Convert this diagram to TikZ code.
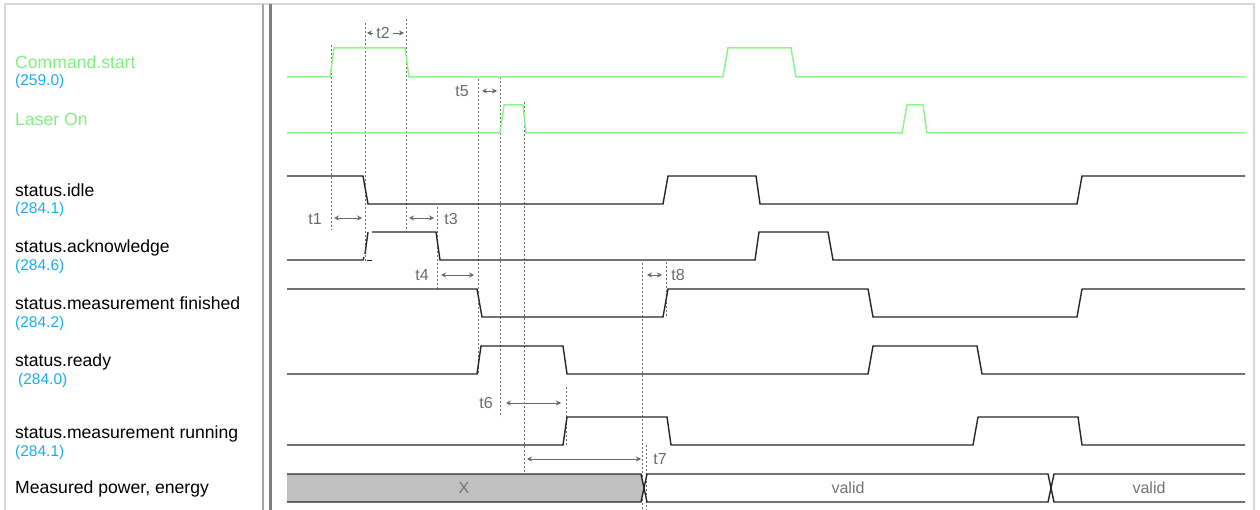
\documentclass[tikz,border=0pt]{standalone}
\usepackage{fontspec}
\setmainfont{Liberation Sans}
\usetikzlibrary{arrows.meta}
\definecolor{sigg}{HTML}{8CF58C}
\definecolor{txtg}{HTML}{80F080}
\definecolor{numb}{HTML}{1AAEF0}
\definecolor{dimg}{HTML}{6A6A6A}
\definecolor{busg}{HTML}{C0C0C0}
\definecolor{frameg}{HTML}{D8D8D8}
\tikzset{
  sig/.style={draw=black!85, line width=1.4pt, line join=miter},
  gsig/.style={draw=sigg, line width=1.5pt, line join=miter},
  guide/.style={draw=dimg, line width=0.7pt, dash pattern=on 2pt off 2pt},
  dimarr/.style={draw=dimg, line width=0.8pt, {Stealth[length=5pt,width=5pt]}-{Stealth[length=5pt,width=5pt]}},
  lbl/.style={anchor=base west, inner sep=0pt, font=\fontsize{17.6}{19}\selectfont},
  glbl/.style={lbl, text=txtg},
  nlbl/.style={anchor=base west, inner sep=0pt, text=numb, font=\fontsize{15.5}{17}\selectfont},
  tlbl/.style={inner sep=0pt, text=dimg, font=\fontsize{16}{17}\selectfont},
  buslbl/.style={inner sep=0pt, text=black!55, font=\fontsize{16}{17}\selectfont}
}
\begin{document}
\begin{tikzpicture}[x=1pt,y=-1pt]
\useasboundingbox (0,0) rectangle (1260,510);
% frame
\draw[frameg, line width=2.5pt] (5,510) -- (5,4) -- (1254,4) -- (1254,510);
\draw[black!35, line width=2pt] (263,4) -- (263,510);
\draw[black!50, line width=3pt] (270,4) -- (270,510);

% labels
\node[glbl] (cmd) at (15,69) {Command.start};
\node[nlbl] (cmdn) at (15,86) {(259.0)};
\node[glbl] (laser) at (15,126) {Laser On};
\node[lbl] (idle) at (15,197) {status.idle};
\node[nlbl] (idlen) at (15,214) {(284.1)};
\node[lbl] (ack) at (15,253) {status.acknowledge};
\node[nlbl] (ackn) at (15,271) {(284.6)};
\node[lbl] (fin) at (15,310) {status.measurement finished};
\node[nlbl] (finn) at (15,327) {(284.2)};
\node[lbl] (rdy) at (15,366) {status.ready};
\node[nlbl] (rdyn) at (18,384) {(284.0)};
\node[lbl] (run) at (15,438) {status.measurement running};
\node[nlbl] (runn) at (15,456) {(284.1)};
\node[lbl] (pow) at (15,493) {Measured power, energy};

% guide lines
\draw[guide] (331,45) -- (331,230);
\draw[guide] (365,23) -- (365,262);
\draw[guide] (406,19) -- (406,230);
\draw[guide] (437,207) -- (437,289);
\draw[guide] (478,79) -- (478,375);
\draw[guide] (500,77) -- (500,417);
\draw[guide] (524,102) -- (524,474);
\draw[guide] (566,387) -- (566,445);
\draw[guide] (642,263) -- (642,510);
\draw[guide] (646,445) -- (646,510);
\draw[guide] (666,262) -- (666,318);

% bus
\fill[busg] (287,474) -- (641,474) -- (644,488) -- (641,502) -- (287,502) -- cycle;
\draw[sig] (287,474) -- (641,474) -- (647,502) -- (1048,502) -- (1054,474) -- (1245,474);
\draw[sig] (287,502) -- (641,502) -- (647,474) -- (1048,474) -- (1054,502) -- (1245,502);
\node[buslbl] (bx) at (464,488) {X};
\node[buslbl] (bv1) at (848,488) {valid};
\node[buslbl] (bv2) at (1149,488) {valid};

% waveforms
\draw[gsig] (287,77) -- (330,77) -- (334,48) -- (405,48) -- (409,77) -- (723,77) -- (728,48) -- (791,48) -- (796,77) -- (1245,77);
\draw[gsig] (287,133) -- (500,133) -- (504,105) -- (523,105) -- (526,133) -- (902,133) -- (907,105) -- (923,105) -- (927,133) -- (1245,133);
\draw[sig] (287,176) -- (363,176) -- (368,204) -- (663,204) -- (668,176) -- (756,176) -- (760,204) -- (1077,204) -- (1082,176) -- (1245,176);
\draw[sig] (287,260) -- (363,260) -- (364,257);
\draw[sig] (365,254) -- (368,232);
\draw[sig, line width=1pt] (367,261) -- (372,261);
\draw[sig] (372,232) -- (436,232) -- (440,260) -- (755,260) -- (759,232) -- (828,232) -- (833,260) -- (1245,260);
\draw[sig] (287,289) -- (477,289) -- (482,317) -- (663,317) -- (668,289) -- (868,289) -- (873,317) -- (1077,317) -- (1082,289) -- (1245,289);
\draw[sig] (287,374) -- (477,374) -- (481,346) -- (563,346) -- (567,374) -- (868,374) -- (873,346) -- (977,346) -- (982,374) -- (1245,374);
\draw[sig] (287,445) -- (563,445) -- (567,417) -- (667,417) -- (671,445) -- (973,445) -- (978,417) -- (1078,417) -- (1082,445) -- (1245,445);

% timing dimensions
\coordinate (t1a) at (334,218); \coordinate (t1b) at (362,218);
\coordinate (t3a) at (409,218); \coordinate (t3b) at (434,218);
\coordinate (t2a) at (367,33); \coordinate (t2b) at (404,33);
\coordinate (t5a) at (482,91); \coordinate (t5b) at (497,91);
\coordinate (t4a) at (441,275); \coordinate (t4b) at (474,275);
\coordinate (t8a) at (647,275); \coordinate (t8b) at (662,275);
\coordinate (t6a) at (506,403); \coordinate (t6b) at (561,403);
\coordinate (t7a) at (527,459); \coordinate (t7b) at (641,459);
\draw[dimarr] (t1a) -- (t1b);
\draw[dimarr] (t3a) -- (t3b);
\draw[dimarr] (t2a) -- (t2b);
\draw[dimarr] (t5a) -- (t5b);
\draw[dimarr] (t4a) -- (t4b);
\draw[dimarr] (t8a) -- (t8b);
\draw[dimarr] (t6a) -- (t6b);
\draw[dimarr] (t7a) -- (t7b);
\node[tlbl] (t1) at (315,219) {t1};
\node[tlbl] (t3) at (451,219) {t3};
\node[tlbl, fill=white, inner xsep=3pt, inner ysep=2pt] (t2) at (383,33) {t2};
\node[tlbl] (t5) at (462,91) {t5};
\node[tlbl] (t4) at (422,275) {t4};
\node[tlbl] (t8) at (678,275) {t8};
\node[tlbl] (t6) at (486,403) {t6};
\node[tlbl] (t7) at (660,459) {t7};
\end{tikzpicture}
\end{document}
